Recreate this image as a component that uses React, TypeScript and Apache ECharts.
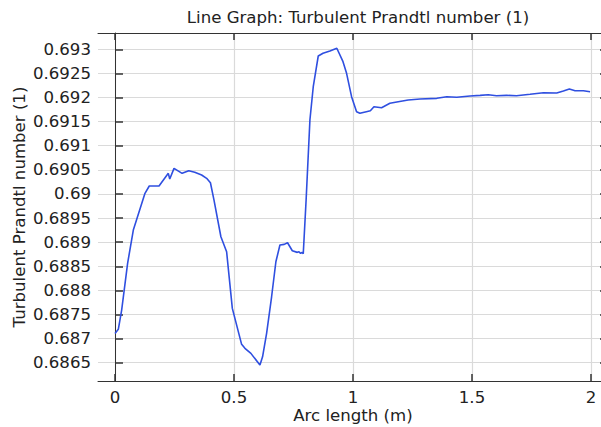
import React, { useEffect, useRef } from "react";
import * as echarts from "echarts";

const arcLength = [
  0, 0.014, 0.028, 0.053, 0.077, 0.126, 0.144, 0.185, 0.224, 0.23, 0.248, 0.282,
  0.31, 0.335, 0.364, 0.385, 0.401, 0.416, 0.445, 0.469, 0.493, 0.532, 0.546,
  0.571, 0.609, 0.62, 0.637, 0.658, 0.676, 0.693, 0.711, 0.725, 0.745, 0.766,
  0.773, 0.78, 0.786, 0.791, 0.803, 0.819, 0.833, 0.854, 0.874, 0.903, 0.932,
  0.958, 0.973, 0.994, 1.015, 1.029, 1.056, 1.073, 1.088, 1.12, 1.155, 1.19,
  1.232, 1.282, 1.352, 1.394, 1.436, 1.492, 1.534, 1.568, 1.603, 1.645, 1.687,
  1.744, 1.8, 1.856, 1.884, 1.909, 1.933, 1.968, 1.996,
];

const prandtl = [
  0.687107, 0.687191, 0.687591, 0.68856, 0.689251, 0.690012, 0.690164, 0.690164,
  0.690427, 0.69031, 0.690531, 0.690427, 0.690482, 0.690448, 0.690392, 0.690324,
  0.690232, 0.689873, 0.689112, 0.688801, 0.687626, 0.68688, 0.686797, 0.686693,
  0.68645, 0.686622, 0.687108, 0.687867, 0.688593, 0.68894, 0.688954, 0.688988,
  0.688822, 0.688788, 0.6888, 0.688768, 0.688788, 0.68876, 0.689873, 0.691533,
  0.692224, 0.692861, 0.692917, 0.692965, 0.693021, 0.692743, 0.692502, 0.692017,
  0.691705, 0.691672, 0.691705, 0.691726, 0.691809, 0.691788, 0.69188, 0.691913,
  0.691948, 0.691969, 0.691983, 0.692017, 0.692004, 0.692031, 0.692045, 0.692058,
  0.692037, 0.692045, 0.692037, 0.692066, 0.6921, 0.692093, 0.692135, 0.692176,
  0.692141, 0.692141, 0.69212,
];

const xTicks = [0, 0.5, 1, 1.5, 2];
const yTicks = [
  0.6865, 0.687, 0.6875, 0.688, 0.6885, 0.689, 0.6895, 0.69, 0.6905, 0.691,
  0.6915, 0.692, 0.6925, 0.693,
];

const titleText = "Line Graph: Turbulent Prandtl number (1)";
const xName = "Arc length (m)";
const yName = "Turbulent Prandtl number (1)";

const FONT = "DejaVu Sans";
const FS = 16.6;
const TEXT = "#222222";
const FRAME = "#333333";
const GRID = "#dadada";

export default function App() {
  const ref = useRef<HTMLDivElement>(null);
  useEffect(() => {
    if (!ref.current) return;
    const chart = echarts.init(ref.current, null, { renderer: "svg" });
    const xMin = -0.0714;
    const xMax = 2.0714;
    const yMin = 0.68612;
    const yMax = 0.693338;
    const fmt = (v: number) => String(parseFloat(Number(v).toFixed(4)));
    const data = arcLength.map((x, i) => [x, prandtl[i]]);
    chart.setOption({
      animation: false,
      backgroundColor: "#ffffff",
      title: {
        text: titleText,
        left: 353,
        top: 4,
        textAlign: "center",
        textStyle: { fontFamily: FONT, fontSize: FS, fontWeight: "normal", color: TEXT },
      },
      grid: {
        left: 98,
        top: 33,
        width: 510,
        height: 348,
        containLabel: false,
        outerBoundsMode: "none",
      },
      xAxis: [
        {
          type: "value",
          min: xMin,
          max: xMax,
          name: xName,
          nameLocation: "middle",
          nameGap: 26,
          nameMoveOverlap: false,
          nameTextStyle: { fontFamily: FONT, fontSize: FS, color: TEXT },
          axisLine: { show: true, lineStyle: { color: FRAME, width: 1 } },
          axisTick: {
            show: true,
            inside: true,
            length: 7,
            customValues: xTicks,
            lineStyle: { color: FRAME, width: 1.5 },
          },
          axisLabel: {
            show: true,
            customValues: xTicks,
            margin: 8,
            formatter: fmt,
            fontFamily: FONT,
            fontSize: FS,
            color: TEXT,
          },
          splitLine: { show: true, lineStyle: { color: GRID, width: 1.2 } },
        },
        {
          type: "value",
          position: "top",
          min: xMin,
          max: xMax,
          axisLine: { show: true, onZero: false, lineStyle: { color: FRAME, width: 1 } },
          axisTick: {
            show: true,
            inside: true,
            length: 7,
            customValues: xTicks,
            lineStyle: { color: FRAME, width: 1.5 },
          },
          axisLabel: { show: false },
          splitLine: { show: false },
        },
      ],
      yAxis: [
        {
          type: "value",
          min: yMin,
          max: yMax,
          name: yName,
          nameLocation: "middle",
          nameGap: 70,
          nameMoveOverlap: false,
          nameTextStyle: { fontFamily: FONT, fontSize: FS, color: TEXT },
          axisLine: { show: true, lineStyle: { color: FRAME, width: 1 } },
          axisTick: {
            show: true,
            inside: true,
            length: 8,
            customValues: yTicks,
            lineStyle: { color: FRAME, width: 1.5 },
          },
          axisLabel: {
            show: true,
            customValues: yTicks,
            margin: 7,
            formatter: fmt,
            fontFamily: FONT,
            fontSize: FS,
            color: TEXT,
          },
          splitLine: { show: true, lineStyle: { color: GRID, width: 1.2 } },
        },
        {
          type: "value",
          position: "right",
          min: yMin,
          max: yMax,
          axisLine: { show: true, onZero: false, lineStyle: { color: FRAME, width: 1 } },
          axisTick: {
            show: true,
            inside: true,
            length: 8,
            customValues: yTicks,
            lineStyle: { color: FRAME, width: 1.5 },
          },
          axisLabel: { show: false },
          splitLine: { show: false },
        },
      ],
      series: [
        {
          type: "line",
          data,
          xAxisIndex: 0,
          yAxisIndex: 0,
          showSymbol: false,
          symbol: "none",
          lineStyle: { color: "#2f4fe0", width: 1.6 },
          itemStyle: { color: "#2f4fe0" },
        },
      ],
    });
    return () => chart.dispose();
  }, []);
  return <div ref={ref} style={{ width: 601, height: 427, position: "absolute", left: 0, top: 0 }} />;
}
